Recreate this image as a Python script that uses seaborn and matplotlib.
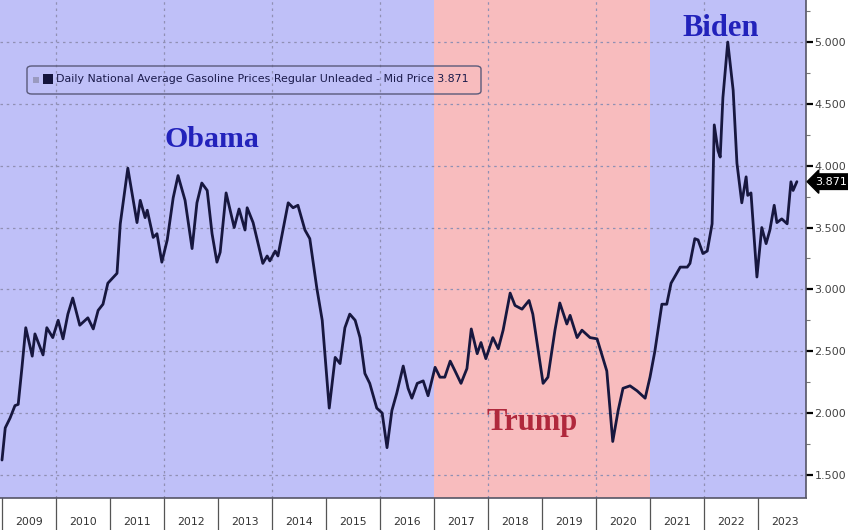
import numpy as np
import pandas as pd
import matplotlib
matplotlib.use("Agg")
import matplotlib.pyplot as plt
import matplotlib.transforms as mtransforms
from matplotlib.ticker import MultipleLocator, FixedLocator
from matplotlib.patches import FancyBboxPatch, Rectangle
import seaborn as sns

# ---- data (decimal year, $/gal) ----
years = [2009.00, 2009.06, 2009.15, 2009.24, 2009.30, 2009.37, 2009.44, 2009.56, 2009.61, 2009.76,
         2009.83, 2009.94, 2010.04, 2010.13, 2010.22, 2010.31, 2010.44, 2010.59, 2010.69, 2010.78,
         2010.87, 2010.96, 2011.13, 2011.19, 2011.33, 2011.50, 2011.56, 2011.65, 2011.69, 2011.80,
         2011.87, 2011.96, 2012.06, 2012.17, 2012.26, 2012.39, 2012.52, 2012.61, 2012.70, 2012.80,
         2012.89, 2012.98, 2013.04, 2013.15, 2013.30, 2013.39, 2013.50, 2013.54, 2013.65, 2013.83,
         2013.91, 2013.96, 2014.06, 2014.11, 2014.30, 2014.39, 2014.48, 2014.61, 2014.70, 2014.83,
         2014.93, 2014.98, 2015.06, 2015.17, 2015.26, 2015.35, 2015.44, 2015.54, 2015.63, 2015.72,
         2015.81, 2015.94, 2016.04, 2016.13, 2016.22, 2016.31, 2016.43, 2016.52, 2016.59, 2016.69,
         2016.80, 2016.89, 2017.02, 2017.11, 2017.20, 2017.30, 2017.39, 2017.50, 2017.61, 2017.69,
         2017.80, 2017.87, 2017.96, 2018.09, 2018.19, 2018.28, 2018.41, 2018.50, 2018.63, 2018.76,
         2018.83, 2019.02, 2019.11, 2019.24, 2019.33, 2019.46, 2019.52, 2019.65, 2019.74, 2019.89,
         2020.02, 2020.13, 2020.20, 2020.31, 2020.41, 2020.50, 2020.63, 2020.76, 2020.91, 2021.00,
         2021.09, 2021.22, 2021.31, 2021.39, 2021.56, 2021.69, 2021.74, 2021.83, 2021.89, 2021.98,
         2022.06, 2022.15, 2022.19, 2022.26, 2022.30, 2022.35, 2022.44, 2022.54, 2022.61, 2022.70,
         2022.78, 2022.81, 2022.87, 2022.98, 2023.07, 2023.15, 2023.22, 2023.30, 2023.35, 2023.44,
         2023.54, 2023.61, 2023.65, 2023.72]
prices = [1.62, 1.88, 1.96, 2.06, 2.07, 2.37, 2.69, 2.46, 2.64, 2.47,
          2.69, 2.61, 2.75, 2.60, 2.80, 2.93, 2.71, 2.77, 2.68, 2.83,
          2.88, 3.05, 3.13, 3.53, 3.98, 3.54, 3.72, 3.58, 3.64, 3.42,
          3.45, 3.22, 3.40, 3.74, 3.92, 3.72, 3.33, 3.70, 3.86, 3.80,
          3.45, 3.22, 3.30, 3.78, 3.50, 3.65, 3.48, 3.66, 3.54, 3.21,
          3.27, 3.23, 3.31, 3.27, 3.70, 3.66, 3.68, 3.48, 3.41, 3.01,
          2.75, 2.48, 2.04, 2.45, 2.40, 2.69, 2.80, 2.75, 2.61, 2.32,
          2.24, 2.04, 2.00, 1.72, 2.02, 2.16, 2.38, 2.20, 2.12, 2.24,
          2.26, 2.14, 2.37, 2.29, 2.29, 2.42, 2.34, 2.24, 2.36, 2.68,
          2.48, 2.57, 2.44, 2.61, 2.52, 2.67, 2.97, 2.87, 2.84, 2.91,
          2.80, 2.24, 2.29, 2.67, 2.89, 2.72, 2.79, 2.61, 2.67, 2.61,
          2.60, 2.44, 2.34, 1.77, 2.02, 2.20, 2.22, 2.18, 2.12, 2.29,
          2.50, 2.88, 2.88, 3.05, 3.18, 3.18, 3.21, 3.41, 3.40, 3.29,
          3.31, 3.53, 4.33, 4.12, 4.07, 4.55, 5.00, 4.61, 4.02, 3.70,
          3.91, 3.76, 3.78, 3.10, 3.50, 3.37, 3.48, 3.68, 3.54, 3.57,
          3.53, 3.87, 3.80, 3.871]
year_labels = [str(y) for y in range(2009, 2024)]
y_ticks = [1.5, 2.0, 2.5, 3.0, 3.5, 4.0, 4.5, 5.0]
last_value = 3.871
series_name = "Daily National Average Gasoline Prices Regular Unleaded - Mid Price"
presidents = ["Obama", "Trump", "Biden"]
terms = [(2008.9, 2017.0), (2017.0, 2021.0), (2021.0, 2024.0)]

df = pd.DataFrame({"year": years, "price": prices})

sns.set_style("white")
plt.rcParams["font.family"] = ["DejaVu Sans"]

W, H = 848, 530
fig = plt.figure(figsize=(W / 100, H / 100), dpi=100)
fig.patch.set_facecolor("white")

x0, x1 = 2009 + (0 - 2) / 54, 2009 + (806 - 2) / 54
y0, y1 = 1.313, 5.340

AW, AH = 806, 498
BH = H - AH
ax = fig.add_axes([0, BH / H, AW / W, AH / H])
band = fig.add_axes([0, 0, AW / W, BH / H])

blue = "#bfc0f8"
pink = "#f8bcbe"
for (a, b), c in zip(terms, [blue, pink, blue]):
    ax.axvspan(a, b, color=c, lw=0, zorder=0)

# grid
for yv in y_ticks:
    ax.axhline(yv, color="#9090b4", lw=0.9, ls=(0, (2, 3)), zorder=1)
for xv in range(2010, 2024, 2):
    ax.axvline(xv, color="#9090b4", lw=0.9, ls=(0, (2, 3)), zorder=1)

sns.lineplot(data=df, x="year", y="price", ax=ax, color="#17173f", lw=2.0, zorder=3)

ax.set_xlim(x0, x1)
ax.set_ylim(y0, y1)
ax.set_xlabel("")
ax.set_ylabel("")
ax.set_xticks([])
ax.yaxis.tick_right()
ax.yaxis.set_major_locator(FixedLocator(y_ticks))
ax.yaxis.set_minor_locator(MultipleLocator(0.25))
ax.set_yticklabels([f"{v:.3f}" for v in y_ticks])
ax.tick_params(axis="y", which="major", direction="out", length=5, width=1.6,
               color="black", labelsize=8, labelcolor="#444444", pad=1, right=True, left=False)
ax.tick_params(axis="y", which="minor", direction="out", length=3, width=0.8,
               color="#777777", right=True, left=False)
for s in ["top", "left", "bottom"]:
    ax.spines[s].set_visible(False)
ax.spines["right"].set_color("#555566")
ax.spines["right"].set_linewidth(1.2)

# last value tag
trans = mtransforms.blended_transform_factory(ax.transAxes, ax.transData)
ax.text(1.012, last_value, f"{last_value:.3f}", transform=trans, ha="left", va="center",
        fontsize=8, color="white", zorder=6, clip_on=False,
        bbox=dict(boxstyle="larrow,pad=0.25", fc="black", ec="black"))

# legend box (pixel-based placement inside the axes)
def px(x, y):
    return (x / AW, 1 - y / AH)

ax.text(*px(56, 79.5), series_name + " 3.871", transform=ax.transAxes, ha="left", va="center",
        fontsize=7.95, color="#1a1a4a", zorder=5)
ax.add_patch(Rectangle(px(43, 84), 10 / AW, 10 / AH, transform=ax.transAxes,
                       fc="#14143c", ec="none", zorder=5))
ax.add_patch(Rectangle(px(33, 82.5), 6 / AW, 6 / AH, transform=ax.transAxes,
                       fc="#9a9ac0", ec="none", zorder=5))
ax.add_patch(FancyBboxPatch(px(27, 94), (481 - 27) / AW, 28 / AH,
                            boxstyle="round,pad=0,rounding_size=0.006", transform=ax.transAxes,
                            fc="none", ec="#5a5a7a", lw=1.0, zorder=4))

# president labels
pres_pos = [(2012.89, 4.21, "#2222bb", 21.5), (2018.81, 1.92, "#b0283c", 22), (2022.30, 5.11, "#2222bb", 22)]
for name, (pxx, pyy, col, fs) in zip(presidents, pres_pos):
    ax.text(pxx, pyy, name, ha="center", va="center", fontsize=fs, fontweight="bold",
            family="Liberation Serif", color=col, zorder=5)

# date band
band.set_xlim(x0, x1)
band.set_ylim(0, 1)
band.set_facecolor("white")
for yr in range(2009, 2024):
    band.axvline(yr, color="#555555", lw=0.9)
for i, lab in enumerate(year_labels):
    band.text(2009 + i + 0.5, 0.26, lab, ha="center", va="center", fontsize=7.8,
              color="#333333")
band.set_xticks([])
band.set_yticks([])
for s in ["left", "right", "bottom"]:
    band.spines[s].set_visible(False)
band.spines["top"].set_color("#555566")
band.spines["top"].set_linewidth(1.2)

fig.savefig("out.png", dpi=100)
